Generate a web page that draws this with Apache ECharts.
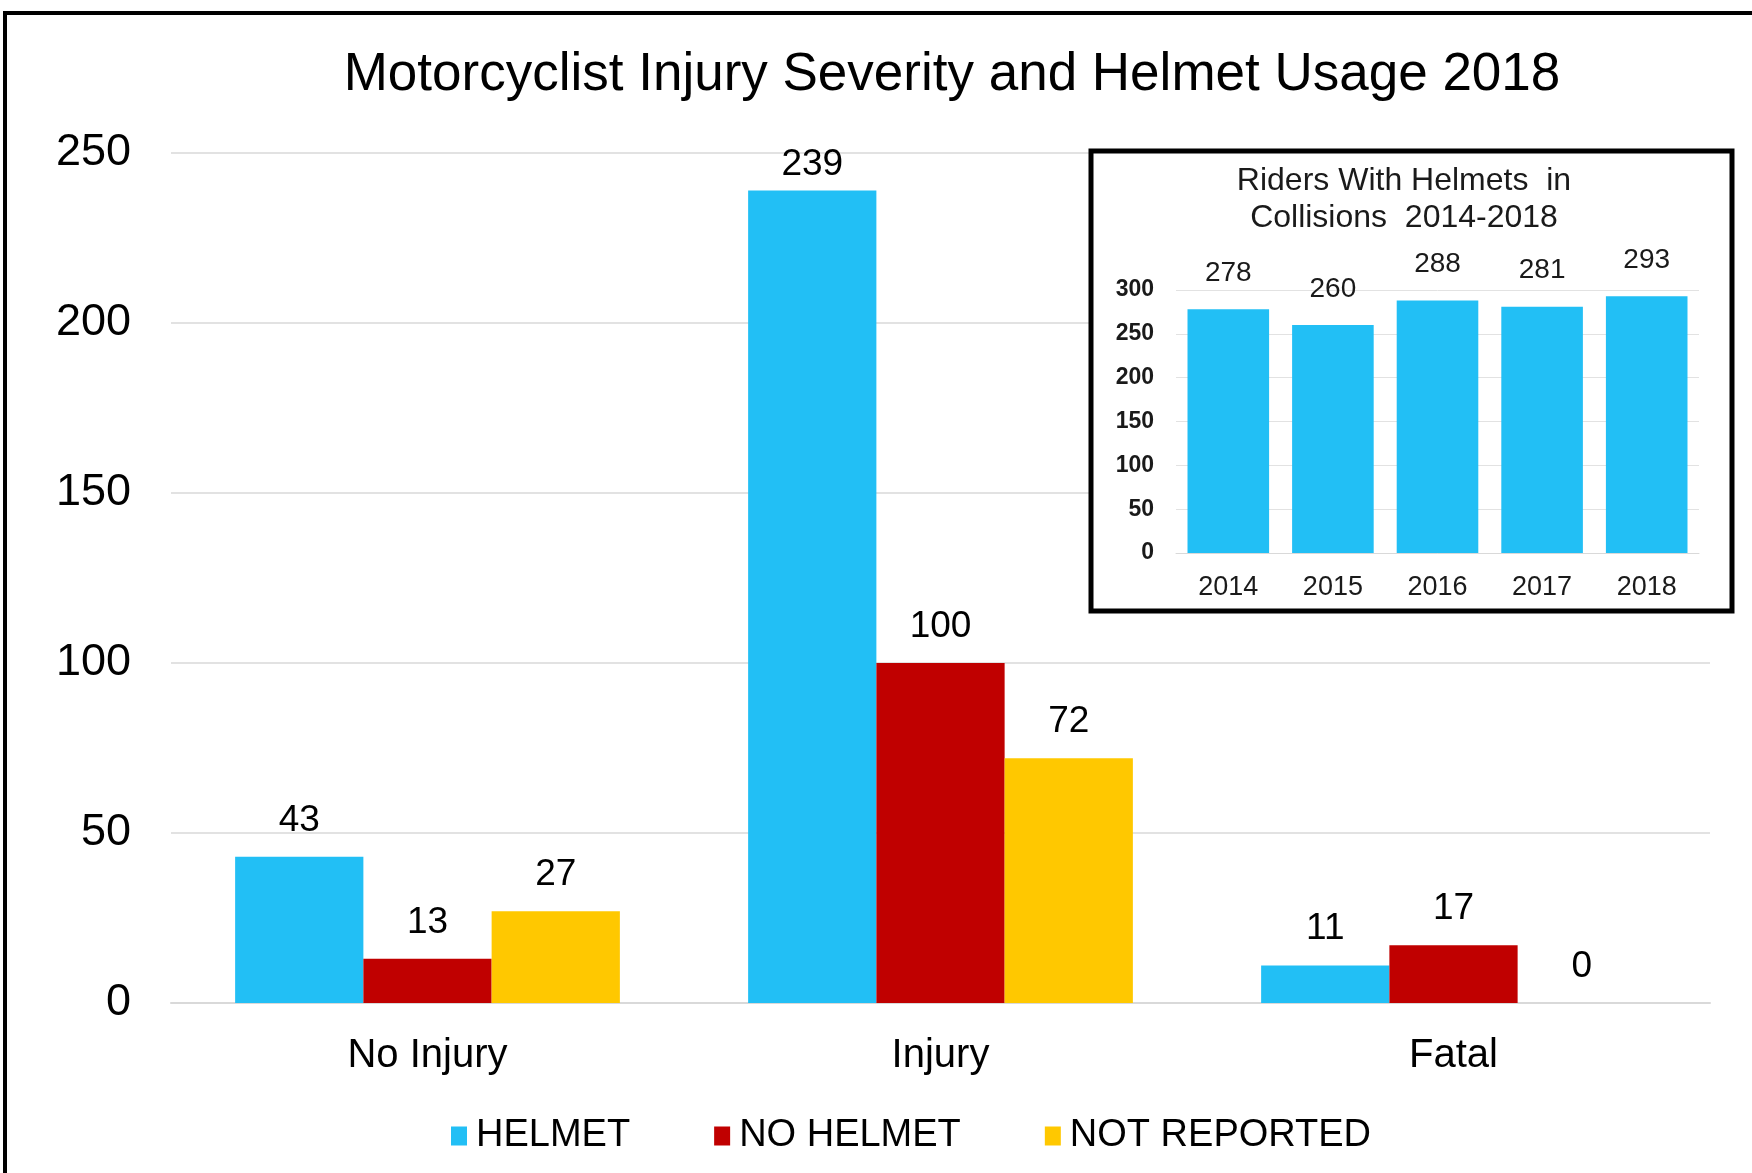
<!DOCTYPE html>
<html lang="en">
<head>
    <meta charset="UTF-8"/>
    <title>Motorcyclist Injury Severity</title>
    <script src="https://cdn.jsdelivr.net/npm/echarts@6/dist/echarts.min.js"></script>
    <style>
        html, body { margin: 0; padding: 0; background: #fff; }
    </style>
</head>
<body>

<div id="main" style="width: 1752px;height:1173px;"></div>

<script type="text/javascript">
    // main chart data
    var categories = ['No Injury', 'Injury', 'Fatal'];
    var helmet = [43, 239, 11];
    var noHelmet = [13, 100, 17];
    var notReported = [27, 72, 0];

    // inset chart data
    var years = ['2014', '2015', '2016', '2017', '2018'];
    var ridersWithHelmets = [278, 260, 288, 281, 293];

    var FONT = 'Liberation Sans, Arial, sans-serif';
    var BLUE = '#22BFF5', RED = '#C00000', GOLD = '#FFC800';

    var myChart = echarts.init(document.getElementById('main'));

    function mainSeries(name, data, color) {
        return {
            name: name,
            type: 'bar',
            // the 239 label sits closer to its bar in the original
            data: data.map(function (v) {
                return v === 239 ? {value: v, label: {distance: 7}} : v;
            }),
            xAxisIndex: 0,
            yAxisIndex: 0,
            barGap: '0%',
            barCategoryGap: '25%',
            itemStyle: {color: color},
            label: {
                show: true,
                position: 'top',
                distance: 18,
                color: '#000',
                fontSize: 37,
                fontFamily: FONT
            }
        };
    }

    var option = {
        backgroundColor: '#fff',
        animation: false,
        title: [{
            text: 'Motorcyclist Injury Severity and Helmet Usage 2018',
            left: 947,
            top: 44,
            textAlign: 'center',
            textStyle: {fontSize: 53, fontWeight: 'normal', color: '#000', fontFamily: FONT}
        }, {
            text: 'Riders With Helmets  in\nCollisions  2014-2018',
            left: 1399,
            top: 158,
            textAlign: 'center',
            textStyle: {fontSize: 32, lineHeight: 37, fontWeight: 'normal', color: '#1a1a1a', fontFamily: FONT}
        }],
        legend: {
            data: ['HELMET', 'NO HELMET', 'NOT REPORTED'],
            left: 446,
            top: 1112,
            itemWidth: 16,
            itemHeight: 19,
            itemGap: 84,
            icon: 'rect',
            textStyle: {fontSize: 38, color: '#000', fontFamily: FONT, padding: [0, 0, 0, 4]}
        },
        graphic: [{
            type: 'rect',
            shape: {x: 5, y: 13, width: 2000, height: 2000},
            style: {fill: 'none', stroke: '#000', lineWidth: 4},
            z: 100
        }, {
            type: 'rect',
            shape: {x: 1091, y: 151, width: 641, height: 460},
            style: {fill: '#fff', stroke: '#000', lineWidth: 5},
            z: 5
        }],
        grid: [{
            left: 171, right: 42, top: 153, height: 850
        }, {
            left: 1176, width: 523, top: 290, height: 263, z: 6
        }],
        xAxis: [{
            type: 'category',
            data: categories,
            gridIndex: 0,
            axisTick: {show: false},
            axisLine: {lineStyle: {color: '#D9D9D9', width: 2}},
            axisLabel: {fontSize: 40, color: '#000', margin: 33, fontFamily: FONT}
        }, {
            type: 'category',
            data: years,
            gridIndex: 1,
            z: 6,
            axisTick: {show: false},
            axisLine: {lineStyle: {color: '#D9D9D9', width: 1}},
            axisLabel: {fontSize: 27, color: '#1a1a1a', margin: 21, fontFamily: FONT}
        }],
        yAxis: [{
            type: 'value',
            gridIndex: 0,
            min: 0,
            max: 250,
            interval: 50,
            axisLine: {show: false},
            axisTick: {show: false},
            splitLine: {lineStyle: {color: '#E2E2E2', width: 2}},
            axisLabel: {fontSize: 45, color: '#000', margin: 40, fontFamily: FONT}
        }, {
            type: 'value',
            gridIndex: 1,
            min: 0,
            max: 300,
            interval: 50,
            z: 6,
            axisLine: {show: false},
            axisTick: {show: false},
            splitLine: {lineStyle: {color: '#E2E2E2', width: 1}},
            axisLabel: {fontSize: 23, fontWeight: 'bold', color: '#1a1a1a', margin: 22, fontFamily: FONT}
        }],
        series: [
            mainSeries('HELMET', helmet, BLUE),
            mainSeries('NO HELMET', noHelmet, RED),
            mainSeries('NOT REPORTED', notReported, GOLD),
            {
                name: 'Riders With Helmets',
                type: 'bar',
                data: ridersWithHelmets,
                xAxisIndex: 1,
                yAxisIndex: 1,
                z: 7,
                barCategoryGap: '22%',
                itemStyle: {color: BLUE},
                label: {
                    show: true,
                    position: 'top',
                    distance: 22,
                    color: '#1a1a1a',
                    fontSize: 28,
                    fontFamily: FONT
                }
            }
        ]
    };

    myChart.setOption(option);
</script>
</body>
</html>
